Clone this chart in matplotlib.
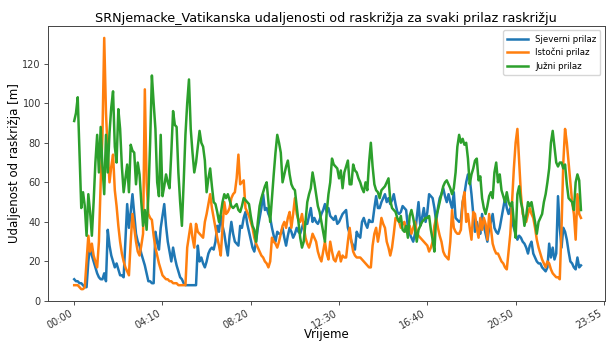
import matplotlib
matplotlib.use("Agg")
import matplotlib.pyplot as plt
import numpy as np

# 5-minute samples over one day (index 0..287)
sjeverni = [
    11, 10, 10, 9, 9, 8, 7, 7, 20, 28, 23, 20, 17, 14, 12, 11, 11, 14, 10, 36,
    28, 23, 20, 17, 19, 16, 13, 13, 12, 30, 49, 37, 45, 54, 44, 34, 30, 28, 24, 21,
    18, 14, 10, 10, 9, 9, 35, 30, 26, 37, 43, 49, 38, 30, 25, 20, 27, 22, 18, 15,
    12, 11, 9, 8, 8, 8, 8, 8, 8, 8, 28, 20, 22, 19, 17, 20, 24, 26, 27, 26,
    30, 38, 35, 43, 38, 34, 28, 23, 33, 40, 34, 30, 29, 28, 38, 37, 42, 45, 39, 35,
    31, 27, 25, 30, 37, 42, 47, 54, 46, 47, 44, 42, 37, 33, 30, 35, 34, 34, 37, 32,
    28, 33, 37, 35, 32, 34, 37, 35, 34, 37, 40, 39, 39, 43, 47, 40, 42, 40, 39, 41,
    44, 46, 49, 45, 47, 43, 42, 41, 43, 39, 40, 42, 44, 45, 46, 37, 34, 30, 28, 26,
    35, 33, 32, 40, 42, 39, 37, 41, 40, 40, 47, 53, 47, 47, 50, 52, 54, 50, 52, 49,
    51, 54, 49, 45, 44, 45, 48, 47, 46, 37, 34, 32, 30, 34, 42, 50, 38, 42, 47, 40,
    45, 54, 53, 52, 47, 40, 47, 52, 54, 57, 53, 50, 54, 50, 47, 55, 42, 41, 40, 41,
    50, 54, 60, 64, 62, 54, 44, 35, 40, 36, 34, 44, 38, 34, 30, 37, 40, 44, 37, 35,
    34, 37, 42, 47, 52, 47, 44, 47, 40, 37, 34, 31, 33, 32, 30, 29, 27, 24, 28, 30,
    24, 22, 20, 19, 19, 17, 16, 15, 17, 29, 22, 27, 21, 24, 53, 37, 27, 37, 35, 31,
    25, 20, 19, 17, 16, 22, 17, 18,
]

istocni = [
    8, 8, 8, 7, 6, 6, 7, 20, 33, 25, 29, 23, 20, 17, 30, 60, 84, 133, 95, 75,
    60, 68, 74, 56, 48, 38, 30, 24, 20, 17, 15, 13, 30, 44, 37, 30, 25, 23, 28, 34,
    107, 60, 44, 42, 41, 33, 27, 23, 19, 16, 13, 12, 11, 11, 10, 10, 9, 9, 9, 8,
    8, 8, 8, 8, 27, 33, 39, 32, 27, 39, 35, 34, 33, 32, 40, 44, 49, 54, 47, 42,
    37, 32, 28, 23, 37, 50, 44, 45, 47, 52, 54, 55, 62, 74, 59, 60, 61, 47, 45, 43,
    40, 37, 32, 29, 27, 25, 23, 22, 20, 19, 17, 20, 32, 30, 29, 27, 30, 34, 38, 40,
    37, 42, 45, 37, 44, 52, 44, 41, 40, 44, 38, 32, 29, 27, 30, 34, 32, 30, 25, 22,
    20, 25, 30, 24, 21, 30, 25, 21, 20, 23, 25, 20, 23, 22, 22, 30, 37, 30, 25, 23,
    22, 22, 22, 21, 20, 19, 18, 17, 17, 28, 34, 37, 30, 35, 42, 39, 37, 30, 27, 23,
    27, 34, 42, 41, 40, 37, 39, 40, 35, 37, 38, 34, 37, 40, 35, 33, 32, 31, 30, 29,
    28, 25, 27, 30, 38, 42, 37, 33, 30, 25, 23, 22, 21, 30, 46, 37, 35, 34, 34, 36,
    50, 55, 40, 44, 37, 31, 45, 44, 37, 32, 42, 36, 42, 39, 31, 44, 37, 29, 26, 24,
    24, 22, 20, 19, 17, 16, 25, 34, 50, 67, 80, 87, 70, 54, 44, 42, 40, 44, 47, 44,
    42, 37, 31, 27, 24, 21, 19, 17, 20, 19, 16, 14, 13, 12, 12, 11, 37, 70, 87, 80,
    70, 60, 50, 44, 31, 54, 44, 42,
]

juzni = [
    91, 95, 103, 75, 47, 55, 48, 33, 54, 45, 33, 50, 70, 84, 65, 88, 68, 54, 84, 65,
    85, 98, 106, 78, 70, 97, 87, 68, 55, 62, 69, 55, 79, 76, 75, 59, 70, 64, 50, 38,
    46, 36, 53, 80, 114, 100, 87, 60, 53, 84, 53, 58, 64, 60, 57, 75, 96, 89, 88, 65,
    50, 38, 60, 84, 100, 112, 87, 75, 65, 70, 78, 86, 80, 78, 71, 55, 62, 67, 58, 50,
    49, 45, 40, 44, 50, 54, 52, 54, 51, 48, 47, 48, 49, 46, 45, 48, 52, 51, 50, 49,
    43, 38, 36, 30, 40, 48, 52, 55, 58, 60, 50, 40, 52, 64, 75, 84, 80, 75, 60, 64,
    68, 71, 64, 59, 57, 56, 48, 40, 32, 27, 30, 40, 50, 54, 57, 65, 60, 54, 48, 45,
    40, 35, 30, 45, 54, 60, 72, 69, 68, 67, 62, 66, 57, 65, 68, 71, 59, 59, 69, 66,
    65, 62, 60, 57, 55, 60, 56, 70, 80, 68, 59, 56, 55, 52, 56, 57, 58, 60, 62, 51,
    47, 46, 45, 42, 40, 43, 36, 35, 38, 32, 43, 46, 42, 37, 30, 36, 38, 40, 41, 42,
    42, 43, 36, 31, 25, 43, 46, 50, 54, 58, 60, 61, 59, 57, 54, 57, 65, 78, 84, 80,
    82, 79, 80, 72, 59, 64, 67, 71, 72, 61, 63, 52, 47, 44, 48, 53, 55, 52, 65, 70,
    60, 64, 56, 53, 50, 55, 50, 48, 50, 40, 32, 54, 58, 50, 46, 38, 43, 50, 48, 50,
    45, 40, 34, 40, 42, 44, 50, 54, 60, 67, 80, 86, 78, 70, 68, 70, 70, 67, 69, 59,
    52, 51, 50, 46, 60, 64, 61, 46,
]

tick_pos = [0, 50, 100, 150, 200, 250, 300]
tick_labels = ["00:00", "04:10", "08:20", "12:30", "16:40", "20:50", "23:55"]

x = np.arange(len(sjeverni))

fig = plt.figure(figsize=(6.14, 3.45), dpi=100)
ax = fig.add_axes([0.078, 0.1275, 0.907, 0.797])

ax.plot(x, sjeverni, color="#1f77b4", lw=1.8, label="Sjeverni prilaz")
ax.plot(x, istocni, color="#ff7f0e", lw=1.8, label="Istočni prilaz")
ax.plot(x, juzni, color="#2ca02c", lw=1.8, label="Južni prilaz")

ax.set_xlim(-14.9, 300.5)
ax.set_ylim(0, 139)
ax.set_yticks([0, 20, 40, 60, 80, 100, 120])
ax.set_xticks(tick_pos)
ax.set_xticklabels(tick_labels, rotation=30, ha="right")
ax.tick_params(axis="both", labelsize=7, length=3, width=0.6, pad=2,
               colors="#333333")
for sp in ax.spines.values():
    sp.set_linewidth(0.7)
    sp.set_color("#444444")

ax.set_title("SRNjemacke_Vatikanska udaljenosti od raskrižja za svaki prilaz raskrižju",
             fontsize=9.2, pad=3)
ax.set_xlabel("Vrijeme", fontsize=8.5, labelpad=-2)
ax.set_ylabel("Udaljenost od raskrižja [m]", fontsize=8.5, labelpad=1)

ax.legend(loc="upper right", fontsize=6.2, handlelength=2.4, borderpad=0.5,
          labelspacing=0.5, framealpha=0.8)

fig.savefig("out.png", dpi=100)
